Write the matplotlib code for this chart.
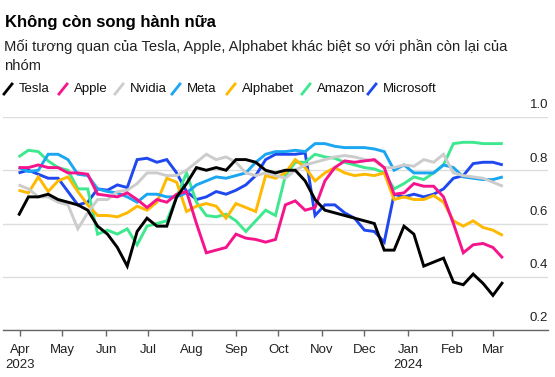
import matplotlib
matplotlib.use("Agg")
import matplotlib.pyplot as plt
import matplotlib.transforms as mtransforms
from matplotlib.lines import Line2D
import pandas as pd
import numpy as np

plt.rcParams['font.family'] = ['Liberation Sans', 'DejaVu Sans']

dates = pd.date_range('2023-03-31', periods=50, freq='7D')

tesla = [0.63, 0.70, 0.70, 0.71, 0.69, 0.68, 0.67, 0.65, 0.59, 0.56,
         0.51, 0.44, 0.57, 0.62, 0.59, 0.59, 0.70, 0.75, 0.81, 0.80,
         0.81, 0.80, 0.84, 0.84, 0.83, 0.80, 0.79, 0.80, 0.80, 0.76,
         0.69, 0.65, 0.64, 0.63, 0.62, 0.61, 0.60, 0.50, 0.50, 0.59,
         0.56, 0.44, 0.455, 0.47, 0.38, 0.37, 0.41, 0.375, 0.33, 0.38]
apple = [0.81, 0.81, 0.82, 0.81, 0.81, 0.79, 0.79, 0.785, 0.71, 0.705,
         0.70, 0.715, 0.69, 0.66, 0.69, 0.68, 0.71, 0.72, 0.60, 0.49,
         0.50, 0.51, 0.56, 0.545, 0.54, 0.53, 0.54, 0.67, 0.685, 0.65,
         0.66, 0.76, 0.81, 0.835, 0.83, 0.835, 0.84, 0.81, 0.71, 0.715,
         0.75, 0.74, 0.74, 0.70, 0.60, 0.49, 0.52, 0.525, 0.51, 0.47]
nvidia = [0.745, 0.73, 0.70, 0.70, 0.68, 0.67, 0.58, 0.64, 0.69, 0.69,
          0.72, 0.725, 0.75, 0.79, 0.79, 0.78, 0.78, 0.80, 0.83, 0.86,
          0.84, 0.85, 0.83, 0.79, 0.78, 0.79, 0.78, 0.77, 0.80, 0.82,
          0.83, 0.84, 0.85, 0.855, 0.85, 0.84, 0.835, 0.81, 0.81, 0.82,
          0.815, 0.84, 0.83, 0.86, 0.79, 0.78, 0.775, 0.77, 0.755, 0.74]
meta = [0.81, 0.795, 0.80, 0.86, 0.86, 0.84, 0.785, 0.78, 0.73, 0.72,
        0.715, 0.70, 0.68, 0.71, 0.71, 0.70, 0.70, 0.715, 0.745, 0.76,
        0.775, 0.77, 0.78, 0.79, 0.83, 0.86, 0.87, 0.87, 0.875, 0.87,
        0.90, 0.90, 0.89, 0.885, 0.885, 0.885, 0.88, 0.87, 0.80, 0.82,
        0.79, 0.79, 0.79, 0.82, 0.81, 0.775, 0.77, 0.765, 0.765, 0.775]
alphabet = [0.725, 0.715, 0.775, 0.72, 0.76, 0.775, 0.72, 0.67, 0.63, 0.63,
            0.625, 0.64, 0.665, 0.65, 0.68, 0.77, 0.755, 0.645, 0.665, 0.675,
            0.665, 0.62, 0.675, 0.66, 0.645, 0.78, 0.77, 0.79, 0.84, 0.81,
            0.76, 0.79, 0.81, 0.79, 0.78, 0.785, 0.78, 0.79, 0.69, 0.70,
            0.69, 0.69, 0.705, 0.68, 0.61, 0.59, 0.61, 0.585, 0.575, 0.555]
amazon = [0.85, 0.875, 0.87, 0.835, 0.81, 0.80, 0.73, 0.73, 0.56, 0.575,
          0.56, 0.58, 0.52, 0.59, 0.60, 0.61, 0.70, 0.79, 0.68, 0.63,
          0.625, 0.635, 0.61, 0.57, 0.61, 0.65, 0.63, 0.78, 0.83, 0.83,
          0.86, 0.85, 0.845, 0.83, 0.82, 0.81, 0.805, 0.79, 0.73, 0.75,
          0.775, 0.765, 0.79, 0.82, 0.90, 0.905, 0.905, 0.90, 0.90, 0.90]
microsoft = [0.79, 0.80, 0.785, 0.77, 0.77, 0.72, 0.67, 0.68, 0.73, 0.725,
             0.745, 0.735, 0.84, 0.845, 0.83, 0.84, 0.79, 0.72, 0.69, 0.70,
             0.72, 0.71, 0.725, 0.745, 0.78, 0.84, 0.86, 0.86, 0.86, 0.865,
             0.63, 0.67, 0.67, 0.64, 0.62, 0.575, 0.57, 0.53, 0.71, 0.70,
             0.71, 0.70, 0.71, 0.73, 0.77, 0.78, 0.825, 0.83, 0.83, 0.82]

names = ['Tesla', 'Apple', 'Nvidia', 'Meta', 'Alphabet', 'Amazon', 'Microsoft']
series = [tesla, apple, nvidia, meta, alphabet, amazon, microsoft]
colors = ['#000000', '#f5148c', '#cccccc', '#1aa6f0', '#ffb900', '#3ee88e', '#1f48f0']

yticks = [0.2, 0.4, 0.6, 0.8, 1.0]
xtick_dates = pd.date_range('2023-04-01', '2024-03-01', freq='MS')
xtick_labels = ['Apr\n2023', 'May', 'Jun', 'Jul', 'Aug', 'Sep', 'Oct', 'Nov',
                'Dec', 'Jan\n2024', 'Feb', 'Mar']

W, H = 555, 377
fig = plt.figure(figsize=(W / 100, H / 100), dpi=100)
ax = fig.add_axes([3 / W, (H - 330) / H, 545 / W, 213 / H])

n = len(names)
for i, (name, vals, c) in enumerate(zip(names, series, colors)):
    ax.plot(dates, vals, color=c, lw=2.1, zorder=10 + (n - i),
            solid_joinstyle='miter', solid_capstyle='butt')

ax.set_ylim(0.2, 1.0)
ax.set_xlim(pd.Timestamp('2023-03-20'), pd.Timestamp('2024-04-09'))
ax.set_yticks(yticks)
ax.yaxis.set_ticklabels([])
ax.tick_params(axis='y', length=0)
ax.grid(axis='y', color='#dddddd', lw=1)
ax.set_axisbelow(True)
for s in ['top', 'right', 'left']:
    ax.spines[s].set_visible(False)
ax.spines['bottom'].set_color('#666666')
ax.spines['bottom'].set_linewidth(1)

off = mtransforms.offset_copy(ax.get_yaxis_transform(), fig=fig, x=0, y=4, units='points')
for v in yticks:
    ax.text(1.0, v, f'{v:.1f}', transform=off, ha='right', va='bottom',
            fontsize=9.5, color='#222222')

ax.set_xticks(xtick_dates)
ax.set_xticklabels(xtick_labels, fontsize=9.5, color='#222222', linespacing=1.3)
ax.tick_params(axis='x', length=4, width=1, color='#666666', pad=6)

fig.text(5 / W, 1 - 23 / H, 'Không còn song hành nữa', fontsize=12,
         fontweight='bold', va='center', ha='left')
fig.text(4 / W, 1 - 47 / H,
         'Mối tương quan của Tesla, Apple, Alphabet khác biệt so với phần còn lại của',
         fontsize=10.6, va='center', ha='left', color='#222222')
fig.text(4 / W, 1 - 66 / H, 'nhóm', fontsize=10.6, va='center', ha='left', color='#222222')

leg_x = [4, 59, 115, 172, 227, 302, 368]
ly = 89
for x0, name, c in zip(leg_x, names, colors):
    fig.add_artist(Line2D([x0 / W, (x0 + 8) / W], [1 - (ly + 5) / H, 1 - (ly - 5) / H],
                          color=c, lw=2, transform=fig.transFigure))
    fig.text((x0 + 15) / W, 1 - ly / H, name, fontsize=9.5, va='center', ha='left',
             color='#111111')

fig.savefig('out.png', dpi=100)
